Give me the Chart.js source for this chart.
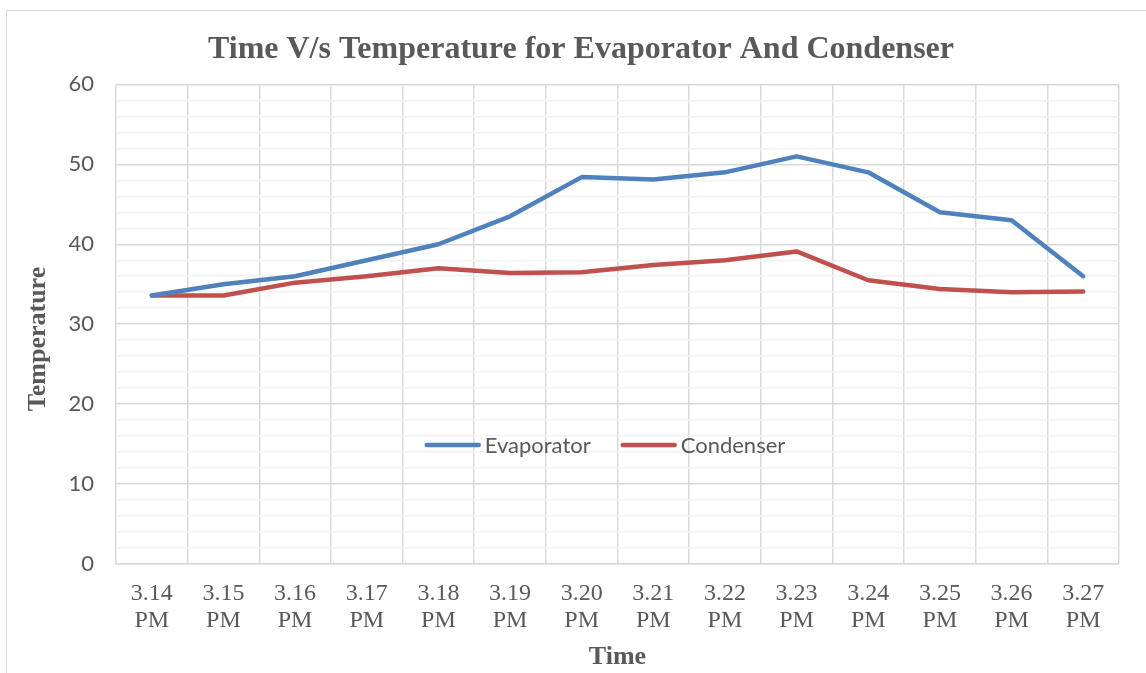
<!DOCTYPE html>
<html>
<head>
<meta charset="utf-8">
<script src="https://cdn.jsdelivr.net/npm/chart.js@4.4.1/dist/chart.umd.min.js"></script>
<style>
  html, body { margin: 0; padding: 0; background: #fff; overflow: hidden; }
  #wrap { position: relative; width: 1146px; height: 673px; overflow: hidden; }
  #frame { position: absolute; left: 6px; top: 10px; width: 1160px; height: 680px; border: 1px solid #d9d9d9; box-sizing: border-box; }
  canvas { position: absolute; left: 0; top: 0; }
</style>
</head>
<body>
<div id="wrap">
  <div id="frame"></div>
  <canvas id="chart" width="1146" height="673"></canvas>
</div>
<script>
const times = ["3.14", "3.15", "3.16", "3.17", "3.18", "3.19", "3.20", "3.21", "3.22", "3.23", "3.24", "3.25", "3.26", "3.27"];
const evaporator = [33.6, 35, 36, 38, 40, 43.5, 48.4, 48.1, 49, 51, 49, 44, 43, 36];
const condenser = [33.6, 33.6, 35.2, 36, 37, 36.4, 36.5, 37.4, 38, 39.1, 35.5, 34.4, 34, 34.1];
const yTicks = [0, 10, 20, 30, 40, 50, 60];

const TEXT = '#595959';
const SERIF = '"Liberation Serif", "Times New Roman", serif';
const SANS = 'Lato, "Liberation Sans", sans-serif';

// legend inside the plot area plus the y axis title centred on the whole frame
const extras = {
  id: 'extras',
  afterDatasetsDraw(chart) {
    const { ctx, chartArea } = chart;
    const y = chartArea.top + (445 - 84) / 480 * (chartArea.bottom - chartArea.top);
    const items = chart.data.datasets.map(ds => ({ label: ds.label, color: ds.borderColor }));
    ctx.save();
    ctx.font = '22px ' + SANS;
    ctx.textBaseline = 'middle';
    const swatch = 56, gap = 4, between = 30;
    let total = 0;
    items.forEach((it, i) => {
      total += swatch + gap + ctx.measureText(it.label).width;
      if (i < items.length - 1) total += between;
    });
    let x = 605 - total / 2;
    items.forEach(it => {
      ctx.strokeStyle = it.color;
      ctx.lineWidth = 4.5;
      ctx.lineCap = 'round';
      ctx.beginPath();
      ctx.moveTo(x + 2, y);
      ctx.lineTo(x + swatch - 2, y);
      ctx.stroke();
      x += swatch + gap;
      ctx.fillStyle = TEXT;
      ctx.fillText(it.label, x, y + 1);
      x += ctx.measureText(it.label).width + between;
    });
    ctx.restore();

    ctx.save();
    ctx.translate(38, 339);
    ctx.rotate(-Math.PI / 2);
    ctx.font = 'bold 26px ' + SERIF;
    ctx.fillStyle = TEXT;
    ctx.textAlign = 'center';
    ctx.textBaseline = 'middle';
    ctx.fillText('Temperature', 0, 0);
    ctx.restore();
  }
};

new Chart(document.getElementById('chart'), {
  type: 'line',
  data: {
    labels: times.map(t => [t, 'PM']),
    datasets: [
      { label: 'Evaporator', data: evaporator, borderColor: '#4f81bd', backgroundColor: '#4f81bd',
        borderWidth: 4.5, pointRadius: 0, tension: 0, borderCapStyle: 'round', borderJoinStyle: 'round' },
      { label: 'Condenser', data: condenser, borderColor: '#c0504d', backgroundColor: '#c0504d',
        borderWidth: 4.5, pointRadius: 0, tension: 0, borderCapStyle: 'round', borderJoinStyle: 'round' }
    ]
  },
  options: {
    responsive: false,
    animation: false,
    layout: { padding: { left: 16, right: 0, top: 0, bottom: 0 } },
    plugins: {
      legend: { display: false },
      tooltip: { enabled: false },
      title: {
        display: true,
        text: 'Time V/s Temperature for Evaporator And Condenser',
        color: TEXT,
        font: { family: SERIF, size: 32, weight: 'bold', lineHeight: 1.2 },
        padding: { top: 31, bottom: 15 }
      }
    },
    scales: {
      x: {
        offset: true,
        grid: { offset: true, color: '#d9d9d9', lineWidth: 1.5, drawTicks: false },
        border: { color: '#d9d9d9', width: 1.5 },
        ticks: { color: TEXT, font: { family: SERIF, size: 24, lineHeight: 1.125 }, padding: 16, maxRotation: 0, autoSkip: false },
        title: { display: true, text: 'Time', color: TEXT, font: { family: SERIF, size: 26, weight: 'bold' }, padding: { top: 5, bottom: 0 } },
        afterFit(scale) { scale.height = 673 - 564; }
      },
      y: {
        min: 0,
        max: 60,
        grid: {
          drawTicks: false,
          lineWidth: 1.5,
          color: ctx => yTicks.includes(ctx.tick.value) ? '#d9d9d9' : '#f2f2f2'
        },
        border: { display: false },
        ticks: {
          stepSize: 2,
          autoSkip: false,
          padding: 22,
          color: TEXT,
          font: { family: SANS, size: 22 },
          callback: v => yTicks.includes(v) ? v : ''
        },
        afterFit(scale) { scale.width = 100; }
      },
      // empty spacer on the right so the plot ends where the original does
      spacer: {
        type: 'linear',
        position: 'right',
        grid: { display: false },
        border: { display: false },
        ticks: { display: false },
        afterFit(scale) { scale.width = 27; }
      }
    }
  },
  plugins: [extras]
});
</script>
</body>
</html>
